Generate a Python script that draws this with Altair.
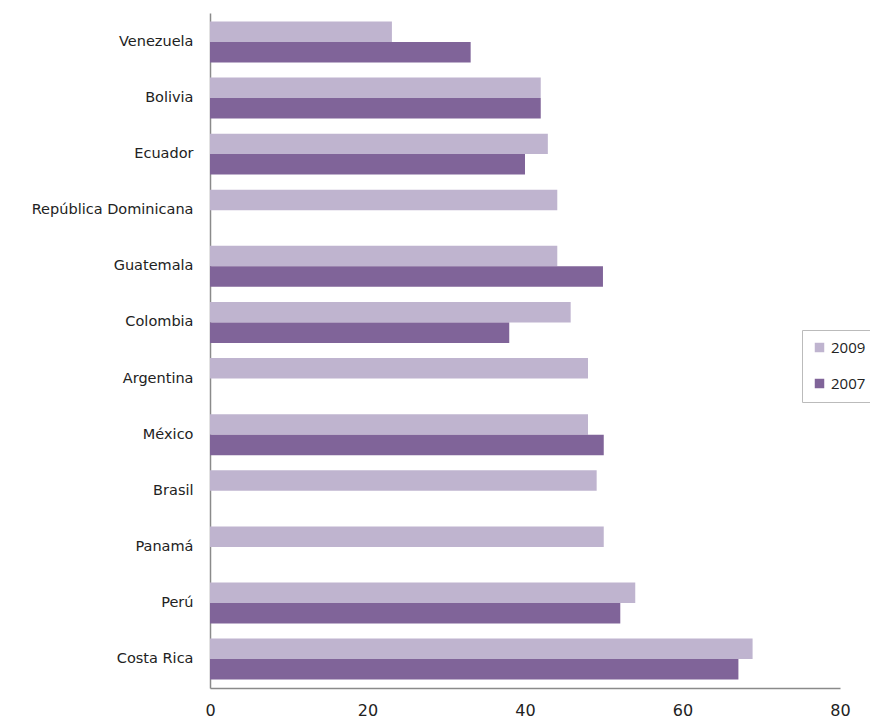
import altair as alt
import pandas as pd

countries = ["Venezuela", "Bolivia", "Ecuador", "República Dominicana", "Guatemala",
             "Colombia", "Argentina", "México", "Brasil", "Panamá", "Perú", "Costa Rica"]
v2009 = [23.1, 42.0, 42.9, 44.1, 44.1, 45.8, 48.0, 48.0, 49.1, 50.0, 54.0, 68.9]
v2007 = [33.1, 42.0, 40.0, None, 49.9, 38.0, None, 50.0, None, None, 52.1, 67.1]
years = ["2009", "2007"]
colors = ["#BFB4CF", "#806499"]
x_ticks = [0, 20, 40, 60, 80]

rows = []
for c, a, b in zip(countries, v2009, v2007):
    if a is not None:
        rows.append({"country": c, "year": "2009", "value": a})
    if b is not None:
        rows.append({"country": c, "year": "2007", "value": b})
df = pd.DataFrame(rows)

chart = alt.Chart(df).mark_bar().encode(
    y=alt.Y("country:N", sort=countries, title=None,
            scale=alt.Scale(paddingInner=0.27, paddingOuter=0.15),
            axis=alt.Axis(ticks=False, labelPadding=17, labelFontSize=14.5,
                          labelFont="DejaVu Sans", labelColor="#222222",
                          domainColor="#8a8a8a", domainWidth=1.5)),
    yOffset=alt.YOffset("year:N", sort=years),
    x=alt.X("value:Q", title=None,
            scale=alt.Scale(domain=[0, 80], nice=False),
            axis=alt.Axis(values=x_ticks, ticks=False, grid=False, labelPadding=14,
                          labelFontSize=16, labelFont="DejaVu Sans",
                          labelColor="#222222", domainColor="#8a8a8a",
                          domainWidth=1.5, labelFlush=False)),
    color=alt.Color("year:N", sort=years,
                    scale=alt.Scale(domain=years, range=colors),
                    legend=alt.Legend(title=None, orient="none", legendX=592, legendY=317,
                                      symbolType="square", symbolSize=90,
                                      symbolStrokeWidth=0, labelFontSize=15,
                                      labelFont="Open Sans", labelColor="#222222",
                                      rowPadding=20, padding=10,
                                      strokeColor="#bbbbbb", fillColor="white")),
).properties(
    width=630, height=675,
    autosize=alt.AutoSizeParams(type="none"),
    padding={"left": 202, "top": 5, "right": 30, "bottom": 31},
).configure_view(stroke=None)

chart.save("out.html", embed_options={"renderer": "svg", "actions": False})
